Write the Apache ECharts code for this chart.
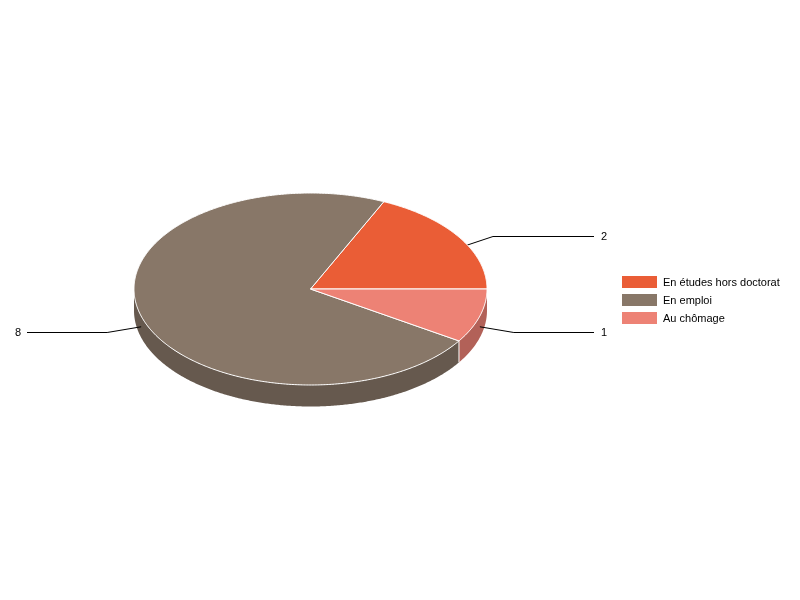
<!DOCTYPE html>
<html>
<head>
<meta charset="utf-8">
<style>html,body{margin:0;padding:0;background:#fff}#c{width:800px;height:600px}</style>
<script src="https://cdn.jsdelivr.net/npm/echarts@6/dist/echarts.min.js"></script>
</head>
<body>
<div id="c"></div>
<script>
var categories = ['En études hors doctorat', 'En emploi', 'Au chômage'];
var values = [2, 8, 1];
var colors = ['#EA5D36', '#887768', '#ED8275'];
var sideColors = ['#B04628', '#66594E', '#B26158'];

var total = values.reduce(function (a, b) { return a + b; }, 0);
var cx = 310.5, cy = 289, rx = 176.5, ry = 96, depth = 21.5;
var lineEndRight = 594, lineEndLeft = 27;
var chart = echarts.init(document.getElementById('c'), null, { renderer: 'canvas' });

function pt(deg, dy) {
  var r = deg * Math.PI / 180;
  return [cx + rx * Math.cos(r), cy - ry * Math.sin(r) + (dy || 0)];
}
function arc(a, b, dy) {
  var out = [], n = Math.max(2, Math.ceil(Math.abs(b - a) * 2));
  for (var i = 0; i <= n; i++) out.push(pt(a + (b - a) * i / n, dy));
  return out;
}

var startAngles = [];
values.reduce(function (acc, v, i) { startAngles[i] = acc; return acc + v / total * 360; }, 0);

function makeRender(i) {
  return function (params, api) {
    var v = api.value(0);
    var a = startAngles[i], b = a + v / total * 360, mid = (a + b) / 2;
    var children = [];
    var sa = Math.max(a, 180), sb = Math.min(b, 360);
    if (sb > sa) {
      children.push({
        type: 'polygon', z2: 1,
        shape: { points: arc(sa, sb, 0).concat(arc(sb, sa, depth)) },
        style: { fill: sideColors[i] }
      });
      if (b < 360) {
        var p0 = pt(b, 0), p1 = pt(b, depth);
        children.push({
          type: 'line', z2: 2,
          shape: { x1: p0[0], y1: p0[1], x2: p1[0], y2: p1[1] },
          style: { stroke: '#fff', lineWidth: 1 }
        });
      }
    }
    var m = pt(mid, depth / 2);
    var right = Math.cos(mid * Math.PI / 180) > 0;
    var up = Math.sin(mid * Math.PI / 180) > 0;
    var elbow = [m[0] + (right ? 34 : -34), Math.floor(m[1] + (up ? -11 : 5.5)) + 0.5];
    var end = [right ? lineEndRight : lineEndLeft, elbow[1]];
    children.push({
      type: 'polyline', z2: 3,
      shape: { points: [m, elbow, end] },
      style: { stroke: '#000', lineWidth: 1, fill: null }
    });
    children.push({
      type: 'polygon', z2: 4,
      shape: { points: [[cx, cy]].concat(arc(a, b, 0)) },
      style: { fill: colors[i], stroke: '#fff', lineWidth: 1, lineJoin: 'round' }
    });
    children.push({
      type: 'text', z2: 5,
      style: {
        text: String(v), x: right ? end[0] + 7 : end[0] - 6, y: end[1] + 0.5,
        fill: '#000', font: '11px "Liberation Sans", Arial, sans-serif',
        align: right ? 'left' : 'right', verticalAlign: 'middle'
      }
    });
    return { type: 'group', children: children };
  };
}

chart.setOption({
  animation: false,
  backgroundColor: '#fff',
  color: colors,
  legend: {
    orient: 'vertical', left: 622, top: 276, padding: 0,
    itemWidth: 35, itemHeight: 12, itemGap: 5.5, icon: 'rect',
    selectedMode: false,
    formatter: '{t|{name}}',
    textStyle: {
      fontFamily: '"Liberation Sans", Arial, sans-serif', fontSize: 11, color: '#000',
      rich: { t: { fontFamily: '"Liberation Sans", Arial, sans-serif', fontSize: 11, color: '#000', padding: [2, 0, 0, 1] } }
    },
    data: categories
  },
  series: categories.map(function (name, i) {
    return {
      type: 'custom', name: name, coordinateSystem: 'none',
      silent: true, clip: false,
      itemStyle: { color: colors[i] },
      data: [[values[i]]],
      renderItem: makeRender(i)
    };
  })
});
</script>
</body>
</html>
